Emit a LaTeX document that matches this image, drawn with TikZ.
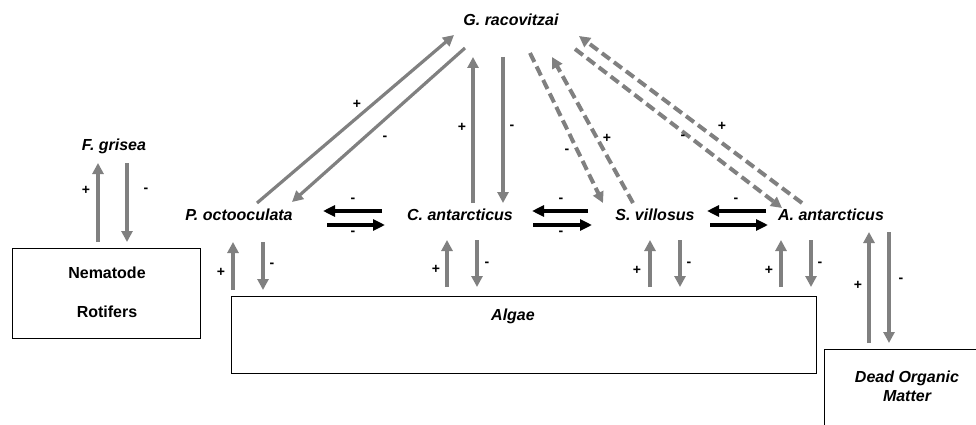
\documentclass[tikz,border=0pt]{standalone}
\usepackage{fontspec}
\setmainfont{Liberation Sans}
\usetikzlibrary{arrows.meta,calc}
\definecolor{arrowgray}{HTML}{808080}
\tikzset{
  species/.style={font=\fontsize{16}{19}\selectfont\bfseries\itshape, inner sep=1pt},
  boxlabel/.style={font=\fontsize{16}{19}\selectfont\bfseries, inner sep=1pt},
  sign/.style={font=\fontsize{14}{16}\selectfont\bfseries, inner sep=0pt},
  garrow/.style={draw=arrowgray, line width=3.8pt, -{Triangle[length=11pt,width=11pt]}},
  gthin/.style={draw=arrowgray, line width=3.2pt, -{Triangle[length=11pt,width=11pt]}},
  gdash/.style={draw=arrowgray, line width=4pt, dash pattern=on 10pt off 5pt, -{Triangle[length=11pt,width=11pt]}},
  barrow/.style={draw=black, line width=3.8pt, -{Triangle[length=12pt,width=11pt]}},
  plainbox/.style={draw=black, line width=1pt, fill=white, inner sep=0pt},
}
\begin{document}
\begin{tikzpicture}[x=1pt,y=-1pt]
\useasboundingbox (0,0) rectangle (976,425);
\clip (0,0) rectangle (976,425);

% compartments
\node[plainbox, minimum width=188pt, minimum height=90pt] (nem) at (106,293) {};
\node[boxlabel] (nemtxt) at (107,273) {Nematode};
\node[boxlabel] (rottxt) at (107,312) {Rotifers};
\node[plainbox, minimum width=585pt, minimum height=77pt] (algae) at (523.5,334.5) {};
\node[species] (algtxt) at (513,316) {Algae};
\node[plainbox, minimum width=180pt, minimum height=120pt, anchor=north west] (dom) at (824,349) {};
\node[species, align=center] (domtxt) at (907,386) {Dead Organic\\Matter};

% species
\node[species] (G) at (511,20) {G. racovitzai};
\node[species] (Fg) at (114,146) {F. grisea};
\node[species] (P) at (239,215) {P. octooculata};
\node[species] (C) at (460,215) {C. antarcticus};
\node[species] (S) at (655,215) {S. villosus};
\node[species] (A) at (831,215) {A. antarcticus};

% F. grisea <-> nematodes/rotifers
\draw[garrow] ($(Fg)+(-16,96)$) -- ($(Fg)+(-16,17)$);
\draw[garrow] ($(Fg)+(13,17)$) -- ($(Fg)+(13,96)$);
\node[sign] (fgp) at (86,190) {+};
\node[sign] (fgm) at (146,190) {-};

% species <-> algae
\draw[garrow] ($(P)+(-6,75)$) -- ($(P)+(-6,27)$);
\draw[garrow] ($(P)+(24,27)$) -- ($(P)+(24,75)$);
\node[sign] (pap) at (221,272) {+};
\node[sign] (pam) at (272,265) {-};
\draw[garrow] ($(C)+(-13,72)$) -- ($(C)+(-13,25)$);
\draw[garrow] ($(C)+(17,25)$) -- ($(C)+(17,72)$);
\node[sign] (cap) at (436,269) {+};
\node[sign] (cam) at (487,264) {-};
\draw[garrow] ($(S)+(-5,72)$) -- ($(S)+(-5,25)$);
\draw[garrow] ($(S)+(25,25)$) -- ($(S)+(25,72)$);
\node[sign] (sap) at (637,270) {+};
\node[sign] (sam) at (689,264) {-};
\draw[garrow] ($(A)+(-50,72)$) -- ($(A)+(-50,25)$);
\draw[garrow] ($(A)+(-20,25)$) -- ($(A)+(-20,72)$);
\node[sign] (aap) at (769,270) {+};
\node[sign] (aam) at (820,264) {-};

% A. antarcticus <-> dead organic matter
\draw[garrow] ($(A)+(38,128)$) -- ($(A)+(38,17)$);
\draw[garrow] ($(A)+(58,17)$) -- ($(A)+(58,128)$);
\node[sign] (adp) at (858,285) {+};
\node[sign] (adm) at (901,280) {-};

% G. racovitzai links
\draw[gthin] ($(C)+(13,-12)$) -- ($(G)+(-38,37)$);
\draw[gthin] ($(G)+(-8,37)$) -- ($(C)+(43,-12)$);
\node[sign] (cgp) at (462,127) {+};
\node[sign] (cgm) at (512,127) {-};
\draw[gthin] ($(P)+(18,-12)$) -- ($(G)+(-57,15)$);
\draw[gthin] ($(G)+(-46,28)$) -- ($(P)+(53,-13)$);
\node[sign] (pgp) at (357,104) {+};
\node[sign] (pgm) at (385,138) {-};
\draw[gdash] ($(G)+(19,33)$) -- ($(S)+(-52,-12)$);
\draw[gdash] ($(S)+(-22,-12)$) -- ($(G)+(41,37)$);
\node[sign] (sgm) at (567,151) {-};
\node[sign] (sgp) at (607,138) {+};
\draw[gdash] ($(A)+(-29,-12)$) -- ($(G)+(68,16)$);
\draw[gdash] ($(G)+(64,29)$) -- ($(A)+(-49,-7)$);
\node[sign] (agp) at (722,126) {+};
\node[sign] (agm) at (683,137) {-};

% competition between neighbours
\draw[barrow] ($(C)+(-78,-4)$) -- ($(P)+(84,-4)$);
\draw[barrow] ($(P)+(88,10)$) -- ($(C)+(-75,10)$);
\node[sign] (pcm1) at (353,200) {-};
\node[sign] (pcm2) at (353,233) {-};
\draw[barrow] ($(S)+(-67,-4)$) -- ($(C)+(72,-4)$);
\draw[barrow] ($(C)+(73,10)$) -- ($(S)+(-63,10)$);
\node[sign] (csm1) at (561,200) {-};
\node[sign] (csm2) at (561,233) {-};
\draw[barrow] ($(A)+(-65,-4)$) -- ($(S)+(52,-4)$);
\draw[barrow] ($(S)+(55,10)$) -- ($(A)+(-63,10)$);
\node[sign] (sam1) at (736,200) {-};
\end{tikzpicture}
\end{document}
